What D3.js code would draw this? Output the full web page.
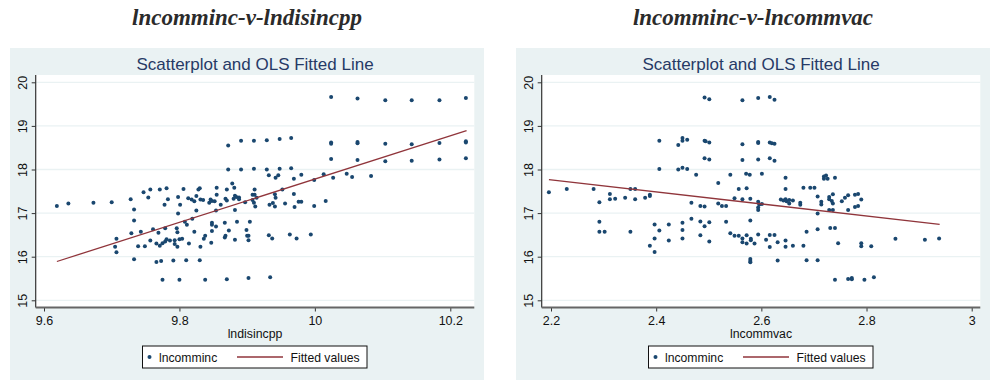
<!DOCTYPE html>
<html>
<head>
<meta charset="utf-8">
<script src="https://cdn.jsdelivr.net/npm/d3@7"></script>
<style>
  body { margin: 0; background: #fff; }
  svg { display: block; }
</style>
</head>
<body>
<svg id="chart" width="990" height="380"></svg>
<script>
// lncomminc vs lndisincpp
const pointsA = [
  [9.619,17.16],[9.636,17.22],[9.673,17.24],[9.700,17.25],[9.728,17.32],[9.733,17.08],[9.733,16.83],[9.729,16.54],
  [9.733,15.94],[9.707,16.41],[9.705,16.23],[9.707,16.10],[9.747,17.48],[9.757,17.54],[9.754,17.36],[9.771,17.54],
  [9.781,17.57],[9.778,17.19],[9.783,17.32],[9.743,16.57],[9.739,16.24],[9.749,16.24],[9.757,16.37],[9.761,16.63],
  [9.769,16.55],[9.766,16.30],[9.771,16.25],[9.775,16.31],[9.779,16.65],[9.781,16.40],[9.779,16.35],[9.786,16.37],
  [9.793,16.29],[9.793,16.38],[9.797,16.23],[9.797,16.56],[9.796,16.65],[9.800,16.40],[9.804,16.41],[9.766,15.88],
  [9.773,15.90],[9.775,15.47],[9.791,15.91],[9.800,15.47],[9.810,15.92],[9.830,15.92],[9.838,15.47],[9.870,15.48],
  [9.902,15.51],[9.798,16.99],[9.801,17.19],[9.798,17.37],[9.806,17.55],[9.808,16.80],[9.811,16.73],[9.814,16.30],
  [9.819,16.87],[9.822,16.57],[9.825,17.06],[9.813,17.34],[9.818,17.31],[9.822,17.27],[9.825,17.39],[9.828,17.54],
  [9.830,17.57],[9.831,17.31],[9.835,17.30],[9.831,16.23],[9.836,16.41],[9.838,16.48],[9.848,16.59],[9.847,16.32],
  [9.848,16.78],[9.848,16.73],[9.854,16.69],[9.844,17.24],[9.846,17.31],[9.848,17.28],[9.852,17.27],[9.855,17.42],
  [9.855,17.58],[9.854,17.06],[9.861,17.19],[9.867,16.78],[9.867,16.44],[9.868,16.48],[9.873,16.60],[9.882,16.39],
  [9.882,17.07],[9.885,16.80],[9.868,17.33],[9.870,17.54],[9.870,17.29],[9.878,17.68],[9.881,17.58],[9.882,17.40],
  [9.884,17.37],[9.888,17.36],[9.880,17.33],[9.888,17.32],[9.872,18.55],[9.872,18.00],[9.891,18.66],[9.891,18.00],
  [9.897,17.25],[9.899,16.61],[9.900,16.48],[9.902,16.48],[9.902,16.38],[9.904,16.80],
  [9.910,18.66],[9.929,18.67],[9.948,18.70],[9.965,18.72],[10.024,19.66],[10.063,19.63],[10.104,19.59],[10.143,19.59],
  [10.184,19.59],[10.223,19.64],[10.024,18.62],[10.024,18.59],[10.063,18.63],[10.063,18.60],[10.104,18.59],[10.143,18.58],
  [10.184,18.61],[10.223,18.65],[10.223,18.62],[10.024,18.24],[10.063,18.22],[10.104,18.19],[10.143,18.20],[10.184,18.23],
  [10.223,18.26],[9.910,18.02],[9.929,18.00],[9.948,18.02],[9.965,18.03],[9.932,17.87],[9.946,17.87],[9.942,17.81],
  [9.969,17.79],[9.980,17.88],[9.999,17.76],[10.013,17.89],[10.027,17.81],[10.047,17.90],[10.055,17.83],[10.083,17.85],
  [9.911,17.54],[9.908,17.42],[9.911,17.42],[9.914,17.35],[9.908,17.30],[9.910,17.24],[9.912,17.15],[9.941,17.43],
  [9.942,17.35],[9.952,17.54],[9.969,17.44],[9.933,17.19],[9.938,17.23],[9.941,17.15],[9.956,17.22],[9.970,17.14],
  [9.976,17.26],[9.980,17.26],[9.999,17.16],[10.016,17.28],[9.932,16.49],[9.937,16.42],[9.963,16.51],[9.973,16.42],
  [9.994,16.51],[9.934,15.53]
];
const fittedA = [[9.619,15.89],[10.224,18.89]];

// lncomminc vs lncommvac
const pointsB = [
  [2.492,19.65],[2.501,19.61],[2.564,19.59],[2.594,19.64],[2.616,19.66],[2.625,19.60],
  [2.406,18.66],[2.442,18.56],[2.450,18.72],[2.450,18.66],[2.459,18.68],[2.492,18.66],[2.494,18.65],[2.501,18.62],
  [2.564,18.58],[2.594,18.63],[2.594,18.61],[2.616,18.62],[2.620,18.60],[2.625,18.59],
  [2.406,18.01],[2.442,18.00],[2.450,18.04],[2.459,18.01],[2.492,18.26],[2.501,18.23],[2.564,18.22],[2.594,18.23],
  [2.616,18.26],[2.625,18.20],[2.476,17.88],[2.541,17.88],[2.571,17.90],[2.578,17.88],[2.601,17.90],[2.518,17.69],
  [2.646,17.81],[2.719,17.84],[2.723,17.86],[2.719,17.79],[2.726,17.79],[2.740,17.81],
  [2.196,17.48],[2.230,17.55],[2.281,17.55],[2.292,17.25],[2.312,17.44],[2.312,17.32],[2.322,17.33],[2.341,17.35],
  [2.351,17.55],[2.360,17.55],[2.360,17.32],[2.379,17.35],[2.388,17.39],[2.388,17.42],[2.467,17.24],[2.484,17.16],
  [2.492,17.15],[2.518,17.22],[2.525,17.16],[2.533,17.16],[2.549,17.34],[2.564,17.32],[2.579,17.33],[2.557,17.55],
  [2.572,17.57],[2.594,17.26],[2.596,17.20],[2.601,17.21],[2.594,17.13],[2.594,17.07],[2.637,17.31],[2.642,17.29],
  [2.646,17.32],[2.648,17.27],[2.653,17.22],[2.653,17.30],[2.660,17.29],[2.646,17.55],[2.674,17.24],[2.674,17.19],
  [2.680,17.58],[2.693,17.58],[2.701,17.58],[2.707,17.38],[2.714,17.26],[2.714,17.20],[2.707,16.99],[2.729,17.37],
  [2.729,17.32],[2.736,17.43],[2.734,17.28],[2.736,17.22],[2.729,17.07],[2.736,17.07],[2.753,17.27],[2.759,17.35],
  [2.765,17.41],[2.778,17.42],[2.784,17.44],[2.790,17.31],[2.778,17.14],[2.784,17.16],[2.765,17.07],
  [2.292,16.80],[2.292,16.57],[2.302,16.57],[2.351,16.57],[2.397,16.74],[2.406,16.60],[2.397,16.42],[2.388,16.25],
  [2.397,16.11],[2.424,16.74],[2.424,16.37],[2.450,16.78],[2.450,16.61],[2.450,16.42],[2.467,16.87],[2.484,16.81],
  [2.492,16.70],[2.501,16.79],[2.484,16.49],[2.501,16.35],[2.533,16.80],[2.541,16.54],[2.549,16.48],[2.557,16.48],
  [2.564,16.42],[2.572,16.49],[2.580,16.41],[2.564,16.33],[2.572,16.30],[2.580,16.38],[2.587,16.30],[2.579,16.83],
  [2.594,16.51],[2.609,16.39],[2.616,16.50],[2.625,16.50],[2.616,16.22],[2.631,16.33],[2.646,16.37],[2.646,16.23],
  [2.660,16.25],[2.680,16.25],[2.686,16.57],[2.707,16.63],[2.731,16.66],[2.740,16.66],[2.746,16.31],[2.790,16.31],
  [2.790,16.24],[2.809,16.24],[2.855,16.41],[2.911,16.39],[2.938,16.42],
  [2.579,15.95],[2.579,15.90],[2.579,15.87],[2.631,15.91],[2.686,15.92],[2.707,15.92],
  [2.740,15.47],[2.765,15.49],[2.772,15.51],[2.772,15.48],[2.796,15.47],[2.814,15.53]
];
const fittedB = [[2.196,17.77],[2.939,16.74]];

const yTicks = [15, 16, 17, 18, 19, 20];
const xTicksA = [9.6, 9.8, 10, 10.2];
const xTicksB = [2.2, 2.4, 2.6, 2.8, 3];

const panels = [
  {left: 10, head: "lncomminc-v-lndisincpp", xLabel: "lndisincpp", points: pointsA, fitted: fittedA,
   xTicks: xTicksA, xDomain: [9.6, 10.2], xRange: [34, 440.3]},
  {left: 516, head: "lncomminc-v-lncommvac", xLabel: "lncommvac", points: pointsB, fitted: fittedB,
   xTicks: xTicksB, xDomain: [2.2, 3.0], xRange: [35, 455.7]}
];

const sans = "'Liberation Sans', Arial, sans-serif";
const bg = "#eaf2f3", navy = "#1a476f", maroon = "#90353b";
const fmt = d3.format("~g");

const svg = d3.select("#chart");

// plot box inside each panel (local coords)
const pw = 474, ph = 332;
const plot = {left: 25.7, right: 464.3, top: 27, bottom: 259.5};

panels.forEach(function (p) {
  // heading above panel
  svg.append("text")
    .attr("x", p.left + pw / 2)
    .attr("y", 25)
    .attr("text-anchor", "middle")
    .style("font-family", "'Liberation Serif', 'Times New Roman', serif")
    .style("font-weight", "bold")
    .style("font-style", "italic")
    .style("font-size", "23px")
    .style("fill", "#2b2b2b")
    .text(p.head);

  const g = svg.append("g").attr("transform", "translate(" + p.left + ",48)");

  g.append("rect").attr("width", pw).attr("height", ph).attr("fill", bg);
  g.append("rect")
    .attr("x", plot.left).attr("y", plot.top)
    .attr("width", plot.right - plot.left).attr("height", plot.bottom - plot.top)
    .attr("fill", "#fff");

  const x = d3.scaleLinear().domain(p.xDomain).range(p.xRange);
  const y = d3.scaleLinear().domain([15, 20]).range([252.3, 34.3]);

  // gridlines
  g.append("g").selectAll("line")
    .data(yTicks)
    .enter().append("line")
    .attr("x1", plot.left).attr("x2", plot.right)
    .attr("y1", d => y(d)).attr("y2", d => y(d))
    .style("stroke", bg).style("stroke-width", "1.3px");

  g.append("text")
    .attr("x", (plot.left + plot.right) / 2)
    .attr("y", 21.5)
    .attr("text-anchor", "middle")
    .style("font-family", sans).style("font-size", "17px")
    .style("fill", "#263a66")
    .text("Scatterplot and OLS Fitted Line");

  // y axis
  const ya = g.append("g")
    .attr("transform", "translate(" + plot.left + ",0)")
    .call(d3.axisLeft(y).tickValues(yTicks).tickFormat(fmt).tickSize(4).tickSizeOuter(0));
  ya.select(".domain").remove();
  ya.selectAll("line").style("stroke", "#333");
  ya.selectAll("text")
    .attr("transform", "rotate(-90)")
    .attr("x", 0).attr("y", -9).attr("dy", 0)
    .attr("text-anchor", "middle")
    .style("font-family", sans).style("font-size", "12.5px").style("fill", "#111");
  g.append("line")
    .attr("x1", plot.left).attr("x2", plot.left)
    .attr("y1", plot.top).attr("y2", plot.bottom)
    .style("stroke", "#333").style("stroke-width", "1.2px");

  // x axis
  const xa = g.append("g")
    .attr("transform", "translate(0," + plot.bottom + ")")
    .call(d3.axisBottom(x).tickValues(p.xTicks).tickFormat(fmt).tickSize(4).tickPadding(4.5).tickSizeOuter(0));
  xa.select(".domain").remove();
  xa.selectAll("line").style("stroke", "#333");
  xa.selectAll("text")
    .style("font-family", sans).style("font-size", "12.5px").style("fill", "#111");
  g.append("line")
    .attr("x1", plot.left).attr("x2", plot.right)
    .attr("y1", plot.bottom).attr("y2", plot.bottom)
    .style("stroke", "#666").style("stroke-width", "2px");

  g.append("text")
    .attr("x", (plot.left + plot.right) / 2)
    .attr("y", 289.5)
    .attr("text-anchor", "middle")
    .style("font-family", sans).style("font-size", "12.3px").style("fill", "#111")
    .text(p.xLabel);

  // scatter
  g.append("g").selectAll("circle")
    .data(p.points)
    .enter().append("circle")
    .attr("cx", d => x(d[0]))
    .attr("cy", d => y(d[1]))
    .attr("r", 2)
    .style("fill", navy);

  // fitted line
  const line = d3.line().x(d => x(d[0])).y(d => y(d[1]));
  g.append("path")
    .datum(p.fitted)
    .attr("d", line)
    .style("fill", "none")
    .style("stroke", maroon)
    .style("stroke-width", "1.3px");

  // legend
  const lg = g.append("g").attr("transform", "translate(132.5,298)");
  lg.append("rect").attr("width", 224.5).attr("height", 22)
    .style("fill", "#fff").style("stroke", "#111").style("stroke-width", "1px");
  lg.append("circle").attr("cx", 7).attr("cy", 11).attr("r", 2).style("fill", navy);
  lg.append("text").attr("x", 16.5).attr("y", 15.5)
    .style("font-family", sans).style("font-size", "12.2px").style("fill", "#111")
    .text("lncomminc");
  lg.append("line").attr("x1", 94.5).attr("x2", 140.5).attr("y1", 11).attr("y2", 11)
    .style("stroke", maroon).style("stroke-width", "1.3px");
  lg.append("text").attr("x", 148).attr("y", 15.5)
    .style("font-family", sans).style("font-size", "12.2px").style("fill", "#111")
    .text("Fitted values");
});
</script>
</body>
</html>
